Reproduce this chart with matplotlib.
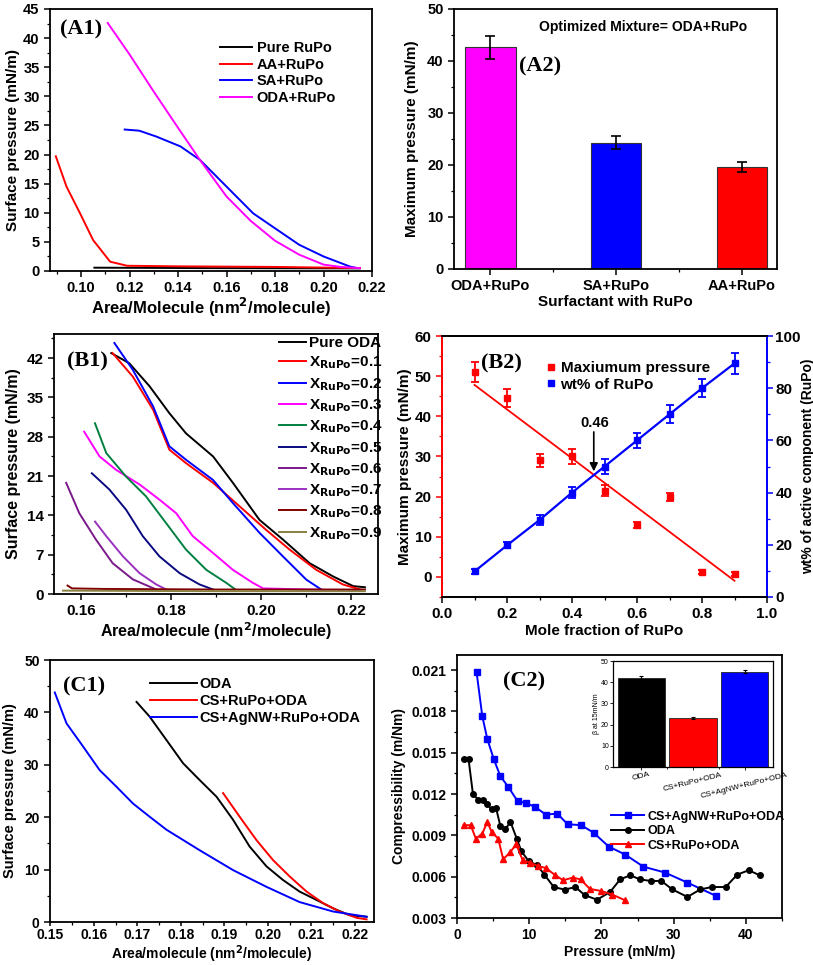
import numpy as np
import matplotlib
matplotlib.use('Agg')
import matplotlib.pyplot as plt
from matplotlib.ticker import MultipleLocator
from matplotlib.lines import Line2D

plt.rcParams['font.family'] = ['Liberation Sans', 'DejaVu Sans']
plt.rcParams['font.weight'] = 'bold'
plt.rcParams['axes.labelweight'] = 'bold'
plt.rcParams['axes.linewidth'] = 1.3
plt.rcParams['xtick.direction'] = 'out'
plt.rcParams['ytick.direction'] = 'out'
plt.rcParams['mathtext.default'] = 'bf'

# ---------------- data ----------------
# (A1) isotherms of surfactant + RuPo
a1_pure_x = [0.1055, 0.15, 0.215]
a1_pure_y = [0.57, 0.5, 0.45]
a1_aa_x = [0.0896, 0.094, 0.0996, 0.105, 0.112, 0.119, 0.14, 0.18, 0.215]
a1_aa_y = [19.7, 14.5, 9.9, 5.3, 1.6, 0.9, 0.8, 0.7, 0.5]
a1_sa_x = [0.118, 0.124, 0.131, 0.141, 0.149, 0.160, 0.171, 0.181, 0.190, 0.200, 0.211, 0.214]
a1_sa_y = [24.3, 24.1, 23.1, 21.4, 19.1, 14.5, 9.9, 7.05, 4.5, 2.5, 0.75, 0.5]
a1_oda_x = [0.111, 0.120, 0.130, 0.140, 0.149, 0.160, 0.170, 0.180, 0.190, 0.200, 0.207, 0.215]
a1_oda_y = [42.6, 37.2, 30.8, 24.6, 19.1, 12.8, 8.6, 5.2, 2.8, 1.1, 0.7, 0.5]

# (A2) maximum pressure
a2_labels = ['ODA+RuPo', 'SA+RuPo', 'AA+RuPo']
a2_values = [42.6, 24.3, 19.6]
a2_errors = [2.2, 1.2, 1.0]
a2_colors = ['#ff00ff', '#0000ff', '#ff0000']

# (B1) ODA/RuPo mixtures
b1_oda_x = [0.1667, 0.1707, 0.1752, 0.1796, 0.1833, 0.1893, 0.1937, 0.1996, 0.2048, 0.2107, 0.216, 0.2204, 0.223]
b1_oda_y = [42.9, 41.1, 37.0, 32.2, 28.6, 24.5, 19.8, 13.2, 9.7, 5.5, 3.1, 1.4, 1.2]
b1_x01_x = [0.167, 0.1715, 0.176, 0.1796, 0.1833, 0.1893, 0.1952, 0.2011, 0.2063, 0.2122, 0.2181, 0.222]
b1_x01_y = [42.9, 38.7, 32.8, 25.7, 23.3, 19.8, 15.6, 11.4, 7.9, 4.3, 1.7, 0.8]
b1_x02_x = [0.1674, 0.1715, 0.176, 0.1796, 0.1833, 0.1893, 0.1937, 0.1996, 0.2048, 0.21, 0.2133]
b1_x02_y = [44.7, 39.9, 33.4, 26.3, 23.9, 20.3, 16.2, 10.9, 6.7, 2.55, 0.8]
b1_x03_x = [0.1607, 0.1641, 0.1678, 0.173, 0.1774, 0.1811, 0.1848, 0.1893, 0.1937, 0.1981, 0.2004, 0.21, 0.222]
b1_x03_y = [28.9, 24.5, 22.1, 19.5, 16.8, 14.4, 10.3, 7.3, 4.3, 2.0, 1.0, 0.8, 0.6]
b1_x04_x = [0.1631, 0.1656, 0.17, 0.1744, 0.1789, 0.1833, 0.1878, 0.1922, 0.1941]
b1_x04_y = [30.4, 25.1, 20.9, 17.4, 12.6, 7.9, 4.3, 2.0, 0.9]
b1_x05_x = [0.1624, 0.1663, 0.170, 0.1737, 0.1774, 0.1819, 0.1863, 0.1893]
b1_x05_y = [21.5, 18.6, 15.0, 10.3, 6.7, 3.7, 1.7, 0.8]
b1_x06_x = [0.1567, 0.1596, 0.1633, 0.167, 0.1715, 0.1767]
b1_x06_y = [19.8, 14.4, 9.7, 5.5, 2.6, 0.8]
b1_x07_x = [0.1631, 0.1656, 0.1693, 0.173, 0.1767, 0.1789]
b1_x07_y = [12.9, 10.3, 6.7, 3.7, 1.7, 0.8]
b1_x08_x = [0.157, 0.158, 0.165, 0.19, 0.223]
b1_x08_y = [1.5, 1.0, 0.9, 0.8, 0.8]
b1_x09_x = [0.156, 0.19, 0.223]
b1_x09_y = [0.6, 0.5, 0.5]

# (B2) maximum pressure and wt% vs mole fraction
b2_x = [0.1, 0.2, 0.3, 0.4, 0.5, 0.6, 0.7, 0.8, 0.9]
b2_pressure = [51.0, 44.5, 29.0, 30.0, 21.5, 13.0, 19.8, 1.3, 0.8]
b2_pressure_err = [2.5, 2.2, 1.5, 1.8, 1.3, 0.8, 1.0, 0.5, 0.5]
b2_wt = [9.8, 19.8, 29.5, 40.0, 50.0, 60.0, 70.0, 80.0, 89.5]
b2_wt_err = [1.0, 1.2, 2.0, 2.2, 2.8, 3.0, 3.5, 3.5, 4.0]

# (C1) isotherms
c1_oda_x = [0.1698, 0.1728, 0.1767, 0.1805, 0.1843, 0.1882, 0.192, 0.1958, 0.1997, 0.2035, 0.2073, 0.2112, 0.215, 0.2188, 0.2227]
c1_oda_y = [42.0, 39.2, 34.7, 30.3, 27.1, 23.9, 19.5, 14.4, 10.6, 8.0, 5.8, 4.2, 2.6, 1.3, 1.0]
c1_cs_x = [0.1897, 0.1935, 0.1974, 0.2012, 0.205, 0.2089, 0.2127, 0.2165, 0.2204, 0.2227]
c1_cs_y = [24.6, 20.1, 15.6, 11.8, 8.7, 5.8, 3.6, 2.0, 0.8, 0.5]
c1_ag_x = [0.151, 0.1537, 0.1575, 0.1613, 0.1652, 0.169, 0.1728, 0.1767, 0.1843, 0.192, 0.1997, 0.2073, 0.215, 0.2227]
c1_ag_y = [43.8, 37.9, 33.5, 29.0, 25.8, 22.6, 20.1, 17.6, 13.7, 9.9, 6.7, 3.8, 2.0, 1.0]

# (C2) compressibility
c2_ag_x = [2.7, 3.5, 4.2, 5.1, 6.0, 7.1, 8.4, 9.5, 10.8, 12.3, 13.9, 15.3, 17.2, 18.9, 21.0, 23.3, 25.8, 28.8, 31.9, 35.8]
c2_ag_y = [0.0209, 0.01766, 0.01599, 0.01453, 0.0133, 0.01252, 0.01148, 0.01136, 0.01107, 0.01051,
           0.01058, 0.00981, 0.00974, 0.0092, 0.00819, 0.0076, 0.00673, 0.0063, 0.00557, 0.00462]
c2_oda_x = [0.9, 1.6, 2.2, 2.9, 3.6, 4.2, 4.8, 5.4, 6.0, 6.7, 7.4, 8.3, 8.9, 9.9, 11.1, 12.1, 13.4, 14.9,
            16.4, 17.7, 19.4, 21.2, 22.6, 24.0, 25.3, 26.8, 28.3, 29.8, 31.9, 33.7, 35.3, 37.2, 38.8, 40.4, 41.9]
c2_oda_y = [0.01458, 0.01453, 0.01204, 0.0116, 0.0116, 0.01126, 0.01088, 0.011, 0.00969, 0.00945, 0.00998,
            0.00872, 0.00787, 0.00714, 0.00683, 0.00615, 0.00525, 0.00506, 0.00525, 0.00465, 0.00433, 0.00489,
            0.00581, 0.0061, 0.00581, 0.00569, 0.00569, 0.00508, 0.00453, 0.00508, 0.00525, 0.00525, 0.00615,
            0.00647, 0.0061]
c2_cs_x = [0.9, 1.9, 2.6, 3.5, 4.2, 4.8, 5.7, 6.4, 7.4, 8.2, 9.1, 10.1, 11.2, 12.3, 13.5, 14.7, 16.0, 17.1,
           18.4, 20.0, 21.5, 23.3]
c2_cs_y = [0.00974, 0.00974, 0.00877, 0.00913, 0.00998, 0.00925, 0.00877, 0.00726, 0.0078, 0.00836, 0.00719,
           0.00702, 0.00678, 0.00663, 0.00615, 0.00574, 0.00593, 0.00581, 0.00511, 0.00496, 0.0047, 0.00428]

# inset: beta at 15 mN/m
inset_labels = ['ODA', 'CS+RuPo+ODA', 'CS+AgNW+RuPo+ODA']
inset_values = [42.0, 23.0, 45.0]
inset_errors = [0.8, 0.4, 0.8]
inset_colors = ['#000000', '#ff0000', '#0000ff']

# ---------------- layout ----------------
W, H = 813, 965
fig = plt.figure(figsize=(W / 100, H / 100), dpi=100)


def box(l, t, r, b):
    return [l / W, 1 - b / H, (r - l) / W, (b - t) / H]


def panel_label(ax, txt, x, y):
    ax.text(x, y, txt, transform=ax.transAxes, fontsize=16, fontweight='bold',
            family='Liberation Serif', va='center', ha='left')


def style(ax, fs=10.5):
    ax.tick_params(which='major', length=4, width=1.1, labelsize=fs)
    ax.tick_params(which='minor', length=2.2, width=0.9)
    ax.tick_params(top=False, right=False)


# ----- A1 -----
ax = fig.add_axes(box(50, 9, 372, 271))
ax.plot(a1_pure_x, a1_pure_y, color='black', lw=1.4, label='Pure RuPo')
ax.plot(a1_aa_x, a1_aa_y, color='#ff0000', lw=1.4, label='AA+RuPo')
ax.plot(a1_sa_x, a1_sa_y, color='#0000ff', lw=1.4, label='SA+RuPo')
ax.plot(a1_oda_x, a1_oda_y, color='#ff00ff', lw=1.4, label='ODA+RuPo')
ax.set_xlim(0.0872, 0.22)
ax.set_ylim(0, 45)
ax.xaxis.set_minor_locator(MultipleLocator(0.01))
ax.yaxis.set_major_locator(MultipleLocator(5))
ax.yaxis.set_minor_locator(MultipleLocator(2.5))
ax.set_xticks([0.10, 0.12, 0.14, 0.16, 0.18, 0.20, 0.22])
ax.set_xticklabels(['0.10', '0.12', '0.14', '0.16', '0.18', '0.20', '0.22'])
ax.set_xlabel('Area/Molecule (nm$^2$/molecule)', fontsize=12, labelpad=0)
ax.set_ylabel('Surface pressure (mN/m)', fontsize=11, labelpad=2)
style(ax)
ax.legend(loc='upper left', bbox_to_anchor=(0.51, 0.9), frameon=False, fontsize=10.5,
          handlelength=2.2, labelspacing=0.18, handletextpad=0.3, borderaxespad=0)
panel_label(ax, '(A1)', 0.03, 0.92)

# ----- A2 -----
ax = fig.add_axes(box(454, 9, 777, 269))
pos = np.arange(len(a2_labels))
ax.bar(pos, a2_values, width=0.4, color=a2_colors, edgecolor='#333333', lw=0.8)
ax.errorbar(pos, a2_values, yerr=a2_errors, fmt='none', ecolor='black', elinewidth=1.2,
            capsize=3.5, capthick=1.2)
ax.set_xlim(-0.29, 2.28)
ax.set_ylim(0, 50)
ax.set_xticks(pos)
ax.set_xticks([0.5, 1.5], minor=True)
ax.set_xticklabels(a2_labels)
ax.yaxis.set_major_locator(MultipleLocator(10))
ax.yaxis.set_minor_locator(MultipleLocator(5))
ax.set_xlabel('Surfactant with RuPo', fontsize=11, labelpad=1)
ax.set_ylabel('Maximum pressure (mN/m)', fontsize=11, labelpad=6)
style(ax)
ax.text(0.585, 0.93, 'Optimized Mixture= ODA+RuPo', transform=ax.transAxes, fontsize=10,
        ha='center', va='center', fontweight='bold')
panel_label(ax, '(A2)', 0.2, 0.78)

# ----- B1 -----
ax = fig.add_axes(box(54, 334, 378, 594))
b1_series = [
    (b1_oda_x, b1_oda_y, '#000000', 'Pure ODA'),
    (b1_x01_x, b1_x01_y, '#ff0000', 'X$_{RuPo}$=0.1'),
    (b1_x02_x, b1_x02_y, '#0000ff', 'X$_{RuPo}$=0.2'),
    (b1_x03_x, b1_x03_y, '#ff00ff', 'X$_{RuPo}$=0.3'),
    (b1_x04_x, b1_x04_y, '#008040', 'X$_{RuPo}$=0.4'),
    (b1_x05_x, b1_x05_y, '#0a0a80', 'X$_{RuPo}$=0.5'),
    (b1_x06_x, b1_x06_y, '#7a1a8a', 'X$_{RuPo}$=0.6'),
    (b1_x07_x, b1_x07_y, '#9a30c0', 'X$_{RuPo}$=0.7'),
    (b1_x08_x, b1_x08_y, '#800000', 'X$_{RuPo}$=0.8'),
    (b1_x09_x, b1_x09_y, '#8a8040', 'X$_{RuPo}$=0.9'),
]
for xs, ys, c, lab in b1_series:
    ax.plot(xs, ys, color=c, lw=1.4, label=lab)
ax.set_xlim(0.154, 0.2259)
ax.set_ylim(0, 46.3)
ax.xaxis.set_minor_locator(MultipleLocator(0.01))
ax.yaxis.set_major_locator(MultipleLocator(7))
ax.yaxis.set_minor_locator(MultipleLocator(3.5))
ax.set_xticks([0.16, 0.18, 0.20, 0.22])
ax.set_xticklabels(['0.16', '0.18', '0.20', '0.22'])
ax.set_xlabel('Area/molecule (nm$^2$/molecule)', fontsize=11.5, labelpad=1)
ax.set_ylabel('Surface pressure (mN/m)', fontsize=11.5, labelpad=4)
style(ax, fs=11)
ax.legend(loc='upper left', bbox_to_anchor=(0.675, 1.015), frameon=False, fontsize=11,
          handlelength=1.8, labelspacing=0.3, handletextpad=0.2, borderaxespad=0)
panel_label(ax, '(B1)', 0.04, 0.895)

# ----- B2 -----
ax = fig.add_axes(box(442, 336, 767, 597))
ax2 = ax.twinx()
ax.errorbar(b2_x, b2_pressure, yerr=b2_pressure_err, fmt='s', color='#ff0000', ms=4.5,
            elinewidth=1.3, capsize=3, capthick=1.3, label='Maxiumum pressure')
fit = np.polyfit(b2_x, b2_pressure, 1)
fx = np.array([b2_x[0], b2_x[-1]])
ax.plot(fx, np.polyval(fit, fx), color='#ff0000', lw=1.3)
ax2.errorbar(b2_x, b2_wt, yerr=b2_wt_err, fmt='s-', color='#0000ff', ms=4.5, lw=1.6,
             elinewidth=1.3, capsize=3, capthick=1.3, label='wt% of RuPo')
ax.set_xlim(0, 1.0)
ax.set_ylim(-5, 60)
ax2.set_ylim(0, 100)
ax.xaxis.set_major_locator(MultipleLocator(0.2))
ax.xaxis.set_minor_locator(MultipleLocator(0.1))
ax.yaxis.set_major_locator(MultipleLocator(10))
ax.yaxis.set_minor_locator(MultipleLocator(5))
ax2.yaxis.set_major_locator(MultipleLocator(20))
ax2.yaxis.set_minor_locator(MultipleLocator(10))
style(ax, fs=11)
ax2.tick_params(which='major', length=4, width=1.1, labelsize=11, colors='#0000ff', labelcolor='black', pad=2)
ax2.tick_params(which='minor', length=2.2, width=0.9, colors='#0000ff')
ax.tick_params(axis='y', which='both', colors='#ff0000', labelcolor='black')
ax2.spines['left'].set_color('#ff0000')
ax2.spines['right'].set_color('#0000ff')
ax.spines['left'].set_color('#ff0000')
ax.spines['right'].set_color('#0000ff')
ax.set_xlabel('Mole fraction of RuPo', fontsize=11, labelpad=2)
ax.set_ylabel('Maximum pressure (mN/m)', fontsize=11, labelpad=2)
ax2.set_ylabel('wt% of active component (RuPo)', fontsize=10, labelpad=0)
ax.annotate('', xy=(0.467, 25.6), xytext=(0.467, 36.8),
            arrowprops=dict(arrowstyle='-|>', color='black', lw=1.2, mutation_scale=12))
ax.text(0.47, 38.3, '0.46', ha='center', va='center', fontsize=10.5)
h1, l1 = ax.get_legend_handles_labels()
h2, l2 = ax2.get_legend_handles_labels()
hs = [Line2D([], [], marker='s', ls='none', color='#ff0000', ms=4.5),
      Line2D([], [], marker='s', ls='none', color='#0000ff', ms=4.5)]
ax2.legend(hs, [l1[0], l2[0]], loc='upper left', bbox_to_anchor=(0.28, 0.955), frameon=False,
           fontsize=11, handlelength=0.6, handletextpad=0.3, labelspacing=0.15)
panel_label(ax, '(B2)', 0.12, 0.895)

# ----- C1 -----
ax = fig.add_axes(box(50, 660, 374, 922))
ax.plot(c1_oda_x, c1_oda_y, color='black', lw=1.4, label='ODA')
ax.plot(c1_cs_x, c1_cs_y, color='#ff0000', lw=1.4, label='CS+RuPo+ODA')
ax.plot(c1_ag_x, c1_ag_y, color='#0000ff', lw=1.4, label='CS+AgNW+RuPo+ODA')
ax.set_xlim(0.1499, 0.2244)
ax.set_ylim(0, 50)
ax.xaxis.set_minor_locator(MultipleLocator(0.005))
ax.yaxis.set_major_locator(MultipleLocator(10))
ax.yaxis.set_minor_locator(MultipleLocator(5))
ax.set_xticks([0.15, 0.16, 0.17, 0.18, 0.19, 0.20, 0.21, 0.22])
ax.set_xticklabels(['0.15', '0.16', '0.17', '0.18', '0.19', '0.20', '0.21', '0.22'])
ax.set_xlabel('Area/molecule (nm$^2$/molecule)', fontsize=10, labelpad=1)
ax.set_ylabel('Surface pressure (mN/m)', fontsize=10.5, labelpad=5)
style(ax, fs=10)
ax.tick_params(axis='x', which='major', length=3, pad=1.5)
ax.tick_params(axis='x', which='minor', length=2)
ax.legend(loc='upper right', bbox_to_anchor=(1.0, 0.985), frameon=False, fontsize=10.5,
          handlelength=3.2, labelspacing=0.2, handletextpad=0.2)
panel_label(ax, '(C1)', 0.04, 0.9)

# ----- C2 -----
ax = fig.add_axes(box(457, 655, 782, 918))
ax.plot(c2_ag_x, c2_ag_y, 's-', color='#0000ff', ms=4, lw=1.4, label='CS+AgNW+RuPo+ODA')
ax.plot(c2_oda_x, c2_oda_y, 'o-', color='black', ms=4, lw=1.4, label='ODA')
ax.plot(c2_cs_x, c2_cs_y, '^-', color='#ff0000', ms=4.5, lw=1.4, label='CS+RuPo+ODA')
ax.set_xlim(0, 45)
ax.set_ylim(0.003, 0.0221)
ax.xaxis.set_major_locator(MultipleLocator(10))
ax.xaxis.set_minor_locator(MultipleLocator(5))
ax.yaxis.set_minor_locator(MultipleLocator(0.0015))
ax.set_yticks([0.003, 0.006, 0.009, 0.012, 0.015, 0.018, 0.021])
ax.set_yticklabels(['0.003', '0.006', '0.009', '0.012', '0.015', '0.018', '0.021'])
ax.set_xlabel('Pressure (mN/m)', fontsize=10, labelpad=2)
ax.set_ylabel('Compressibility (m/Nm)', fontsize=10, labelpad=4)
style(ax, fs=10)
ax.legend(loc='center left', bbox_to_anchor=(0.44, 0.33), frameon=False, fontsize=9,
          handlelength=2.6, labelspacing=0.2, handletextpad=0.3)
panel_label(ax, '(C2)', 0.14, 0.9)

# inset
axi = fig.add_axes(box(613, 661, 773, 767))
ip = np.arange(len(inset_labels))
axi.bar(ip, inset_values, width=0.92, color=inset_colors, edgecolor='#222222', lw=0.6)
axi.errorbar(ip, inset_values, yerr=inset_errors, fmt='none', ecolor='black', elinewidth=0.8,
             capsize=1.5, capthick=0.8)
axi.set_xlim(-0.55, 2.55)
axi.set_ylim(0, 50)
axi.set_xticks(ip)
axi.set_xticks([0.5, 1.5], minor=True)
axi.set_xticklabels(inset_labels, rotation=14, fontsize=6, fontweight='normal')
axi.yaxis.set_major_locator(MultipleLocator(10))
axi.set_ylabel('β at 15mN/m', fontsize=5, fontweight='normal', labelpad=1)
axi.tick_params(which='major', length=2, width=0.6, labelsize=5, pad=1)
axi.tick_params(axis='x', labelsize=6)
axi.tick_params(which='minor', length=1.5, width=0.6)
for s in axi.spines.values():
    s.set_linewidth(0.9)
for t in axi.get_yticklabels():
    t.set_fontweight('normal')

fig.savefig('out.png', dpi=100)
